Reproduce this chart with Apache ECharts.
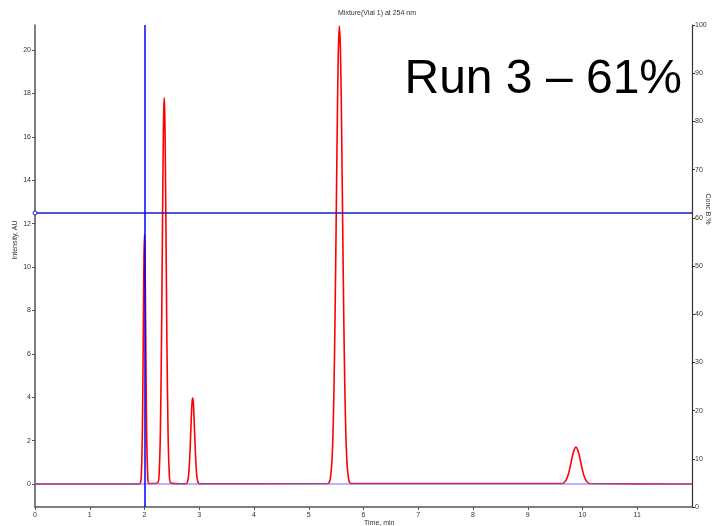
<!DOCTYPE html>
<html>
<head>
<meta charset="utf-8">
<script src="https://cdn.jsdelivr.net/npm/echarts@6/dist/echarts.min.js"></script>
<style>
  html, body { margin: 0; padding: 0; background: #fff; }
  #chart { width: 715px; height: 526px; }
</style>
</head>
<body>
<div id="chart"></div>
<script>
// 色谱数据 (读自图片)
const timeTicks = [0, 1, 2, 3, 4, 5, 6, 7, 8, 9, 10, 11];
const intensityTicks = [0, 2, 4, 6, 8, 10, 12, 14, 16, 18, 20];

const traceTime = [
  0, 1.90,
  1.92, 1.94, 1.96, 1.97, 1.98, 1.99, 2.00, 2.01, 2.02, 2.03, 2.04, 2.06, 2.08,
  2.24, 2.27, 2.29, 2.31, 2.32, 2.33, 2.34, 2.35, 2.36, 2.37, 2.38, 2.39, 2.40, 2.41, 2.43, 2.45, 2.48,
  2.76, 2.79, 2.81, 2.83, 2.84, 2.85, 2.86, 2.87, 2.88, 2.89, 2.90, 2.91, 2.92, 2.93, 2.95, 2.97, 3.00,
  5.35, 5.39, 5.42, 5.44, 5.46, 5.48, 5.50, 5.52, 5.54, 5.56, 5.58, 5.60, 5.62, 5.64, 5.66, 5.68, 5.70, 5.73, 5.77,
  9.63, 9.68, 9.73, 9.78, 9.83, 9.88, 9.93, 9.98, 10.03, 10.08, 10.13,
  12
];
const traceIntensity = [
  0, 0,
  0.02, 0.28, 2.2, 4.5, 7.6, 10.4, 11.5, 10.4, 7.6, 4.5, 2.2, 0.28, 0.02,
  0.05, 0.65, 2.4, 6.4, 9.3, 12.3, 15.1, 17.1, 17.8, 17.1, 15.1, 12.3, 9.3, 6.4, 2.4, 0.65, 0.05,
  0.01, 0.15, 0.53, 1.43, 2.06, 2.73, 3.37, 3.8, 3.96, 3.8, 3.37, 2.73, 2.06, 1.43, 0.53, 0.15, 0.01,
  0.02, 0.2, 0.93, 2.1, 4.3, 7.6, 11.9, 16.4, 19.9, 21.1, 19.9, 16.4, 11.9, 7.6, 4.3, 2.1, 0.93, 0.2, 0.02,
  0.02, 0.11, 0.36, 0.85, 1.43, 1.7, 1.43, 0.85, 0.36, 0.11, 0.02,
  0
];

const baselineTime = [0, 12];
const baselineIntensity = [0, 0];

const gradientTime = [0, 12];
const gradientConcB = [61, 61];

const injectionTime = 2;

const font = 'Liberation Sans, Arial, sans-serif';
const axisColor = '#555';

const chart = echarts.init(document.getElementById('chart'));

const option = {
  animation: false,
  backgroundColor: '#fff',
  grid: { left: 35, right: 23, top: 25, bottom: 19, containLabel: false },
  xAxis: {
    type: 'value',
    min: 0,
    max: 12,
    axisLine: { show: true, onZero: false, lineStyle: { color: axisColor, width: 1.5 } },
    axisTick: { show: true, length: 3, customValues: timeTicks, lineStyle: { color: axisColor } },
    axisLabel: { customValues: timeTicks, fontSize: 7, color: '#333', fontFamily: font, margin: 5 },
    splitLine: { show: false }
  },
  yAxis: [
    {
      type: 'value',
      min: -1.06,
      max: 21.15,
      position: 'left',
      axisLine: { show: true, onZero: false, lineStyle: { color: axisColor, width: 1.5 } },
      axisTick: { show: true, length: 3, customValues: intensityTicks, lineStyle: { color: axisColor } },
      axisLabel: { customValues: intensityTicks, fontSize: 7, color: '#333', fontFamily: font, margin: 4 },
      splitLine: { show: false }
    },
    {
      type: 'value',
      min: 0,
      max: 100,
      interval: 10,
      position: 'right',
      axisLine: { show: true, onZero: false, lineStyle: { color: '#333', width: 1.2 } },
      axisTick: { show: true, length: 3, lineStyle: { color: '#333' } },
      axisLabel: { fontSize: 7, color: '#333', fontFamily: font, margin: 3 },
      splitLine: { show: false }
    }
  ],
  graphic: [
    {
      type: 'text', left: 338, top: 10,
      style: { text: 'Mixture(Vial 1) at 254 nm', fontSize: 7, fill: '#333', fontFamily: font }
    },
    {
      type: 'text', x: 682, y: 80,
      style: { text: 'Run 3 \u2013 61%', fontSize: 48, fill: '#000', fontFamily: font, align: 'right', verticalAlign: 'middle' }
    },
    {
      type: 'text', x: 15, y: 240, rotation: Math.PI / 2,
      style: { text: 'Intensity, AU', fontSize: 7, fill: '#333', fontFamily: font, align: 'center', verticalAlign: 'middle' }
    },
    {
      type: 'text', x: 708, y: 209, rotation: -Math.PI / 2,
      style: { text: 'Conc B,%', fontSize: 7, fill: '#333', fontFamily: font, align: 'center', verticalAlign: 'middle' }
    },
    {
      type: 'text', x: 364, y: 520,
      style: { text: 'Time, min', fontSize: 7, fill: '#333', fontFamily: font, align: 'left', verticalAlign: 'top' }
    }
  ],
  series: [
    {
      name: 'trace',
      type: 'line',
      yAxisIndex: 0,
      showSymbol: false,
      smooth: 0.3,
      data: traceTime.map((t, i) => [t, traceIntensity[i]]),
      lineStyle: { color: '#ff0000', width: 1.6 },
      z: 2
    },
    {
      name: 'baseline',
      type: 'line',
      yAxisIndex: 0,
      showSymbol: false,
      data: baselineTime.map((t, i) => [t, baselineIntensity[i]]),
      lineStyle: { color: 'rgba(110,110,255,0.5)', width: 2 },
      z: 3
    },
    {
      name: 'Conc B',
      type: 'line',
      yAxisIndex: 1,
      symbol: 'circle',
      symbolSize: (val, params) => (params.dataIndex === 0 ? 4 : 0),
      itemStyle: { color: '#fff', borderColor: '#1a1acc', borderWidth: 1 },
      data: gradientTime.map((t, i) => [t, gradientConcB[i]]),
      lineStyle: { color: '#1a1acc', width: 1.3 },
      z: 4,
      markLine: {
        silent: true,
        symbol: 'none',
        label: { show: false },
        lineStyle: { color: '#0000ff', width: 1.5, type: 'solid' },
        data: [{ xAxis: injectionTime }]
      }
    }
  ]
};

chart.setOption(option);
</script>
</body>
</html>
